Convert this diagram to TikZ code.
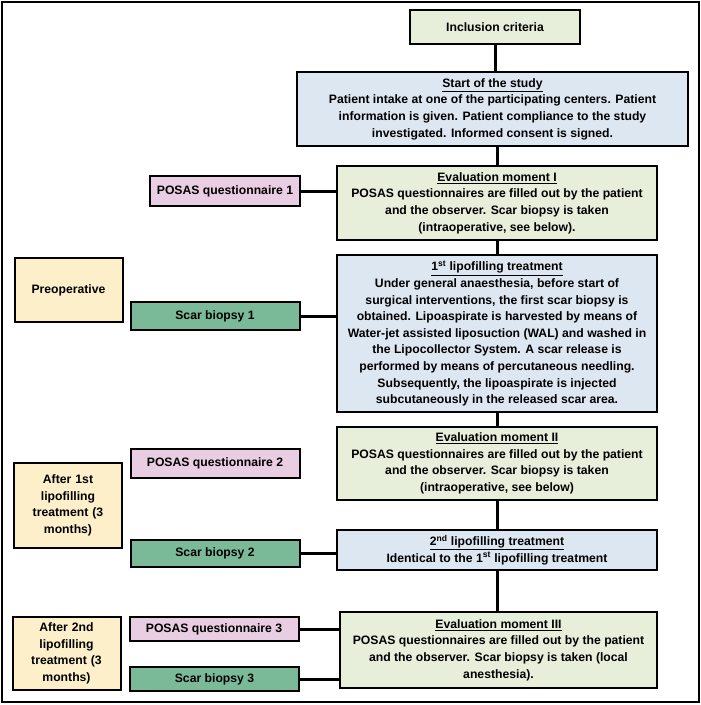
\documentclass[tikz,border=0pt]{standalone}
\usepackage{fontspec}
\setmainfont{Liberation Sans}
\definecolor{boxgreen}{HTML}{E7EEDA}
\definecolor{boxblue}{HTML}{DDE7F2}
\definecolor{boxpink}{HTML}{E9CDE2}
\definecolor{boxteal}{HTML}{7BBA98}
\definecolor{boxyellow}{HTML}{FCEFC9}
\begin{document}
\begin{tikzpicture}[x=1pt, y=-1pt, font=\bfseries\fontsize{12.2}{16.6}\selectfont,
    every node/.style={draw, line width=2pt, inner sep=0pt, outer sep=0pt, align=center},
    main/.style={minimum width=320pt},
    side/.style={minimum width=169pt},
    phase/.style={minimum width=108pt, text width=100pt, fill=boxyellow},
    link/.style={line width=3pt}]
    \useasboundingbox (0, 0) rectangle (701, 705);
    \draw[line width=1.4pt] (2, 2) rectangle (699, 702);

    \node[main, minimum width=170pt, minimum height=34pt, fill=boxgreen] (incl) at (495, 27) {Inclusion criteria};
    \node[minimum width=391pt, minimum height=74pt, fill=boxblue] (start) at (492.5, 109) {\underline{Start of the study}\\Patient intake at one of the participating centers. Patient\\information is given. Patient compliance to the study\\investigated. Informed consent is signed.};
    \node[main, minimum height=74pt, fill=boxgreen] (evalone) at (497, 203) {\underline{Evaluation moment I}\\POSAS questionnaires are filled out by the patient\\and the observer. Scar biopsy is taken\\(intraoperative, see below).};
    \node[main, minimum height=157pt, fill=boxblue] (lipoone) at (497, 333.5) {\underline{1\textsuperscript{st} lipofilling treatment}\\Under general anaesthesia, before start of\\surgical interventions, the first scar biopsy is\\obtained. Lipoaspirate is harvested by means of\\Water-jet assisted liposuction (WAL) and washed in\\the Lipocollector System. A scar release is\\performed by means of percutaneous needling.\\Subsequently, the lipoaspirate is injected\\subcutaneously in the released scar area.};
    \node[main, minimum height=73pt, fill=boxgreen] (evaltwo) at (497, 463.5) {\underline{Evaluation moment II}\\POSAS questionnaires are filled out by the patient\\and the observer. Scar biopsy is taken\\(intraoperative, see below)};
    \node[main, minimum height=40pt, fill=boxblue] (lipotwo) at (497, 550) {\underline{2\textsuperscript{nd} lipofilling treatment}\\Identical to the 1\textsuperscript{st} lipofilling treatment};
    \node[minimum width=317pt, minimum height=76pt, fill=boxgreen] (evalthree) at (498.5, 650) {\underline{Evaluation moment III}\\POSAS questionnaires are filled out by the patient\\and the observer. Scar biopsy is taken (local\\anesthesia).};

    \node[side, minimum width=150pt, minimum height=30pt, fill=boxpink] (posasone) at (225, 191) {POSAS questionnaire 1};
    \node[side, minimum height=28pt, fill=boxteal] (biopsyone) at (215, 316) {Scar biopsy 1};
    \node[side, minimum height=29pt, fill=boxpink] (posastwo) at (215, 463.5) {POSAS questionnaire 2};
    \node[side, minimum height=27pt, fill=boxteal] (biopsytwo) at (215, 553.5) {Scar biopsy 2};
    \node[side, minimum height=24pt, fill=boxpink] (posasthree) at (214, 629) {POSAS questionnaire 3};
    \node[side, minimum height=24pt, fill=boxteal] (biopsythree) at (214.5, 679) {Scar biopsy 3};

    \node[phase, minimum height=64pt] (preop) at (68.5, 290) {Preoperative};
    \node[phase, minimum height=85pt] (afterone) at (68, 505.5) {After 1st\\lipofilling\\treatment (3\\months)};
    \node[phase, minimum height=73pt] (aftertwo) at (66.5, 653.5) {After 2nd\\lipofilling\\treatment (3\\months)};

    \draw[link] (incl) -- (incl |- start.north);
    \draw[link] (start.south -| evalone) -- (evalone);
    \draw[link] (evalone) -- (lipoone);
    \draw[link] (lipoone) -- (evaltwo);
    \draw[link] (evaltwo) -- (lipotwo);
    \draw[link] (lipotwo) -- (lipotwo.south |- evalthree.north);

    \draw[link] (posasone) -- (posasone -| evalone.west);
    \draw[link] (biopsyone) -- (biopsyone -| lipoone.west);
    \draw[link] (biopsytwo) -- (biopsytwo -| lipotwo.west);
    \draw[link] (posasthree) -- (posasthree -| evalthree.west);
    \draw[link] (biopsythree) -- (biopsythree -| evalthree.west);
\end{tikzpicture}
\end{document}
